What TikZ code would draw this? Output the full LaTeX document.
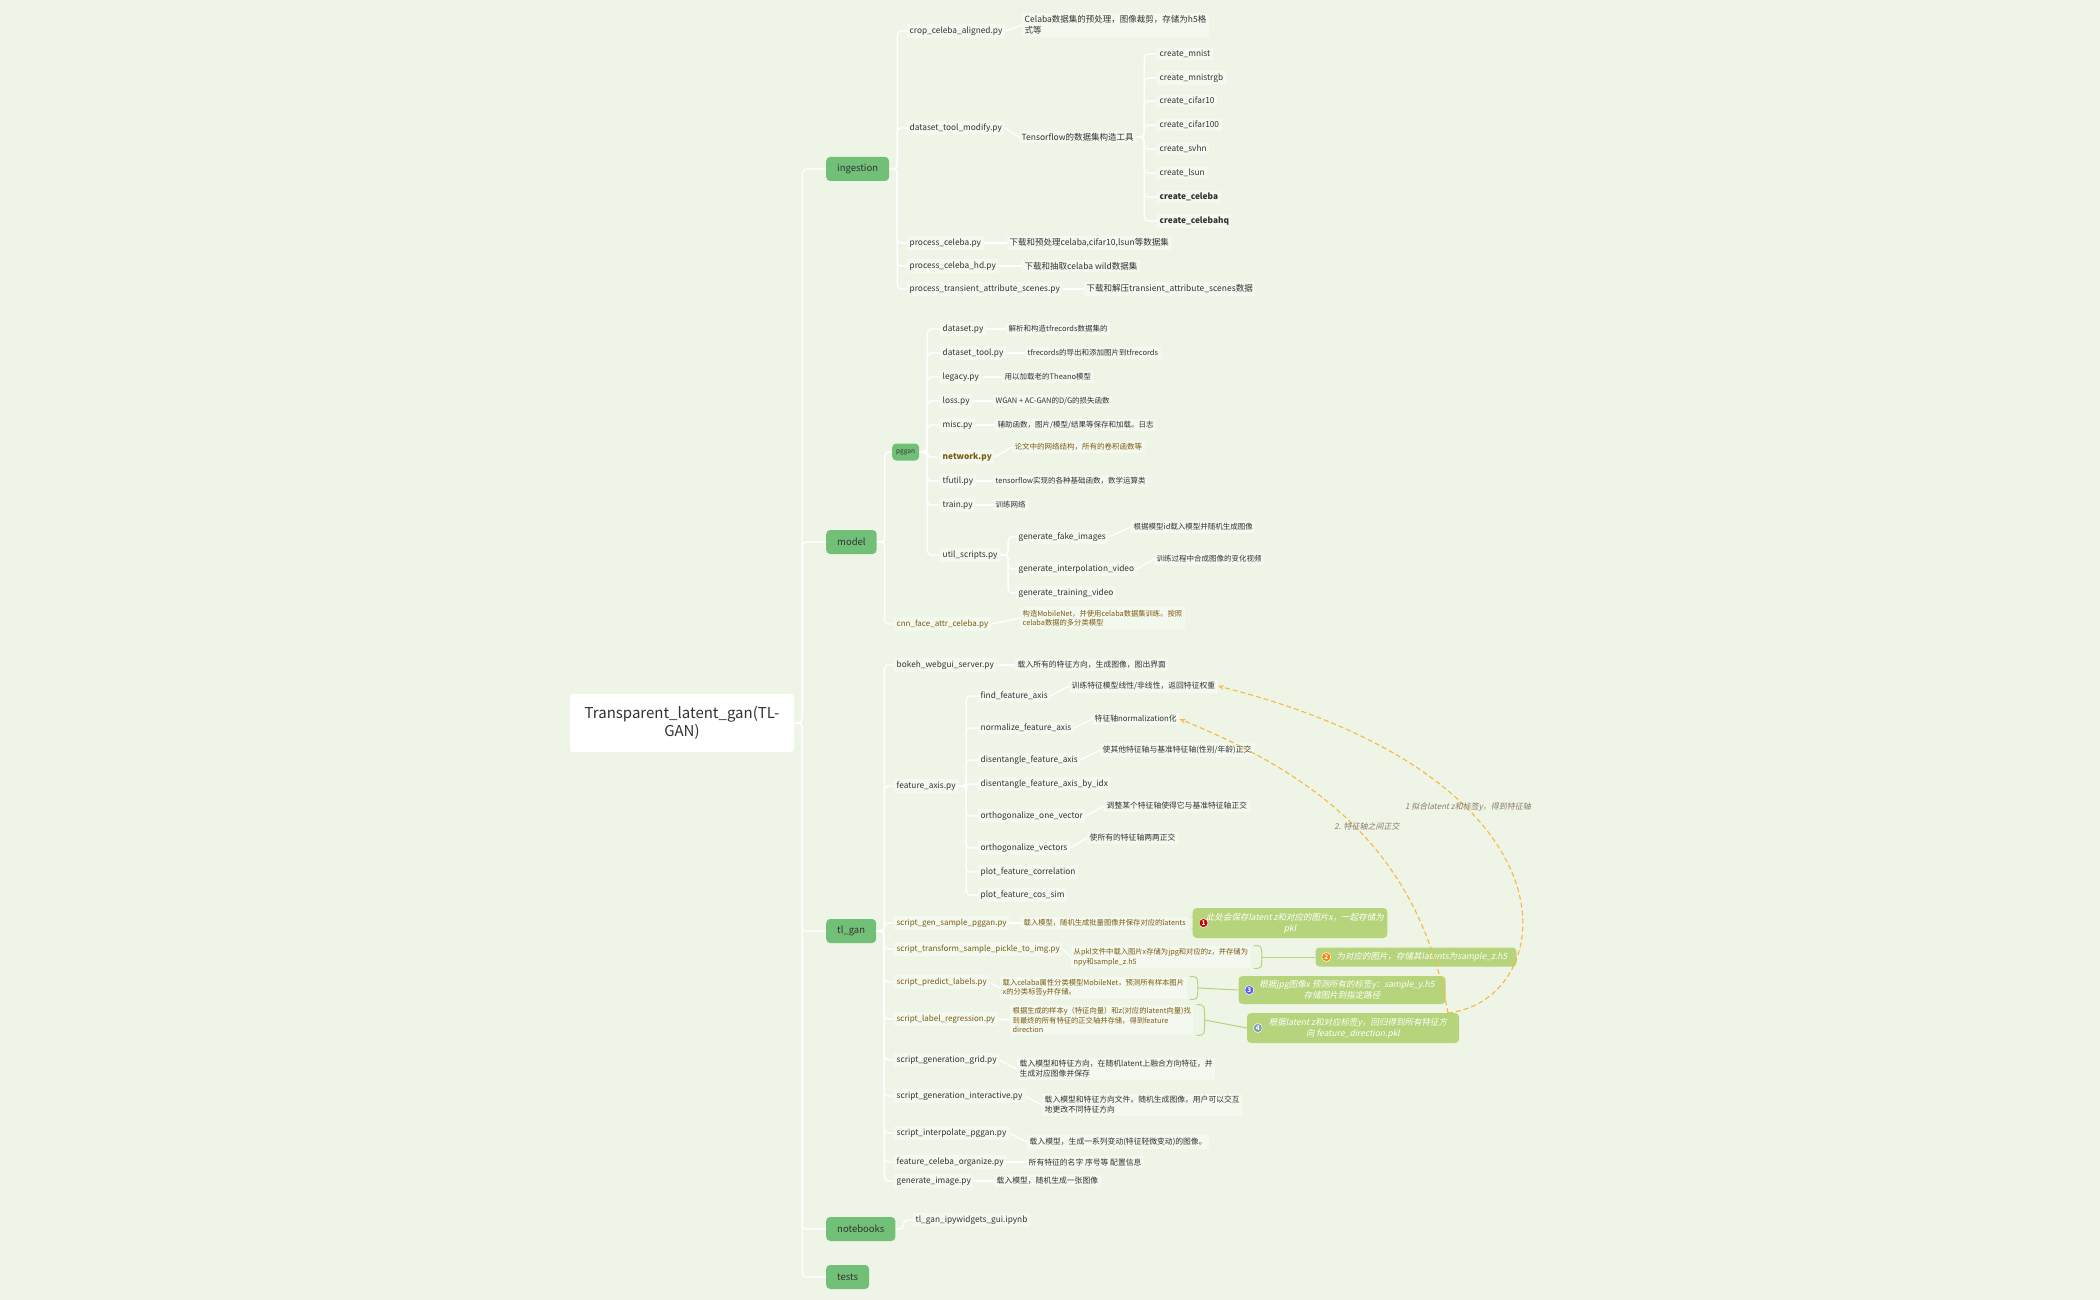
\documentclass[tikz,border=0pt]{standalone}
\usepackage{fontspec}
\setmainfont{Noto Sans CJK SC}
\newfontfamily\slfont{Noto Sans CJK SC}[FakeSlant=0.2]
\usetikzlibrary{arrows.meta}
\definecolor{bgc}{HTML}{EEF5E7}
\definecolor{nodebg}{HTML}{F4F9EF}
\definecolor{lvone}{HTML}{72BF77}
\definecolor{txt}{HTML}{333333}
\definecolor{brn}{HTML}{7B5B12}
\definecolor{notegr}{HTML}{B6D47B}
\definecolor{dashc}{HTML}{F5B942}
\definecolor{labc}{HTML}{8A7A6A}
\tikzset{
 conn/.style={draw=white,line width=1.3pt,rounded corners=4pt},
 rootbox/.style={fill=white,rounded corners=3pt,minimum width=224pt,minimum height=58pt,align=center,text=txt,font=\fontsize{15}{18}\selectfont},
 lone/.style={fill=lvone,rounded corners=4pt,anchor=west,minimum height=24pt,inner xsep=11pt,text=txt,font=\fontsize{9.5}{11}\selectfont},
 ltwo/.style={fill=nodebg,anchor=west,inner sep=2.5pt,text=txt,font=\fontsize{8.3}{10}\selectfont},
 btwo/.style={ltwo,text=brn,font=\fontsize{8}{10}\selectfont},
 dsc/.style={fill=nodebg,anchor=west,inner sep=2.5pt,text=txt,align=left,font=\fontsize{8.5}{11}\selectfont},
 dsm/.style={dsc,font=\fontsize{7.5}{9.5}\selectfont},
 dtl/.style={dsc,font=\fontsize{7.8}{10}\selectfont},
 bdsc/.style={dsc,text=brn,font=\fontsize{7.3}{9.5}\selectfont},
 note/.style={fill=notegr,rounded corners=4pt,text=white,align=center,font=\fontsize{8.5}{11}\slfont},
 numc/.style={circle,inner sep=0.6pt,minimum size=9pt,text=white,font=\fontsize{6.5}{7}\selectfont\bfseries,draw=white,line width=0.5pt},
 brace/.style={draw=notegr,line width=1pt},
 dsh/.style={draw=dashc,line width=1.1pt,dash pattern=on 5pt off 3pt,-{Stealth[length=6pt]}},
 clab/.style={text=labc,font=\fontsize{8}{10}\slfont}
}
\newcommand\cn[2]{\draw[conn] (#1.east) -- ++(8pt,0) |- (#2.west);}
\newcommand\dl[2]{\draw[conn] (#1.east) -- (#2.west);}
\newcommand\brc[2]{\draw[brace] ([xshift=3pt]#1.north east) .. controls ([xshift=11pt]#1.north east) .. ([xshift=11pt]#1.east) .. controls ([xshift=11pt]#1.south east) .. ([xshift=3pt]#1.south east); \draw[brace] ([xshift=11pt]#1.east) -- (#2.west);}
\begin{document}
\begin{tikzpicture}[x=1pt,y=-1pt]
\fill[bgc] (0,0) rectangle (2100,1300);
\useasboundingbox (0,0) rectangle (2100,1300);
% root
\node[rootbox] (root) at (682,723) {Transparent\_latent\_gan(TL-\\GAN)};
\node[lone] (ing) at (826,169) {ingestion};
\node[lone] (mod) at (826,542) {model};
\node[lone] (tlg) at (826,931) {tl\_gan};
\node[lone] (nb) at (826,1229) {notebooks};
\node[lone] (tst) at (826,1277) {tests};
\foreach \c in {ing,mod,tlg,nb,tst} {\cn{root}{\c}}
% ingestion
\node[ltwo] (crop) at (907,31) {crop\_celeba\_aligned.py};
\node[dsc] (cropd) at (1022,25) {Celaba数据集的预处理，图像裁剪，存储为h5格\\式等};
\node[ltwo] (dtm) at (907,128) {dataset\_tool\_modify.py};
\node[dsc] (dtmd) at (1019,137) {Tensorflow的数据集构造工具};
\node[ltwo] (c1) at (1157,54) {create\_mnist};
\node[ltwo] (c2) at (1157,78) {create\_mnistrgb};
\node[ltwo] (c3) at (1157,101) {create\_cifar10};
\node[ltwo] (c4) at (1157,125) {create\_cifar100};
\node[ltwo] (c5) at (1157,149) {create\_svhn};
\node[ltwo] (c6) at (1157,173) {create\_lsun};
\node[ltwo,font=\fontsize{8.3}{10}\selectfont\bfseries] (c7) at (1157,197) {create\_celeba};
\node[ltwo,font=\fontsize{8.3}{10}\selectfont\bfseries] (c8) at (1157,221) {create\_celebahq};
\node[ltwo] (pc) at (907,243) {process\_celeba.py};
\node[dsc] (pcd) at (1007,243) {下载和预处理celaba,cifar10,lsun等数据集};
\node[ltwo] (pch) at (907,266) {process\_celeba\_hd.py};
\node[dsc] (pchd) at (1022,266) {下载和抽取celaba wild数据集};
\node[ltwo] (pta) at (907,289) {process\_transient\_attribute\_scenes.py};
\node[dsc] (ptad) at (1084,289) {下载和解压transient\_attribute\_scenes数据};
\foreach \c in {crop,dtm,pc,pch,pta} {\cn{ing}{\c}}
\foreach \a/\b in {crop/cropd,dtm/dtmd,pc/pcd,pch/pchd,pta/ptad} {\dl{\a}{\b}}
\foreach \c in {c1,c2,c3,c4,c5,c6,c7,c8} {\cn{dtmd}{\c}}
% model
\node[lone,minimum height=17pt,inner xsep=4pt,font=\fontsize{6.5}{8}\selectfont] (pg) at (892,452) {pggan};
\node[ltwo] (m1) at (940,329) {dataset.py};
\node[dsm] (m1d) at (1006,329) {解析和构造tfrecords数据集的};
\node[ltwo] (m2) at (940,353) {dataset\_tool.py};
\node[dsm] (m2d) at (1025,353) {tfrecords的导出和添加图片到tfrecords};
\node[ltwo] (m3) at (940,377) {legacy.py};
\node[dsm] (m3d) at (1002,377) {用以加载老的Theano模型};
\node[ltwo] (m4) at (940,401) {loss.py};
\node[dsm] (m4d) at (993,401) {WGAN + AC-GAN的D/G的损失函数};
\node[ltwo] (m5) at (940,425) {misc.py};
\node[dsm] (m5d) at (995,425) {辅助函数，图片/模型/结果等保存和加载。日志};
\node[ltwo,text=brn,font=\fontsize{8.3}{10}\selectfont\bfseries] (m6) at (940,457) {network.py};
\node[dsm,text=brn] (m6d) at (1012,447) {论文中的网络结构，所有的卷积函数等};
\node[ltwo] (m7) at (940,481) {tfutil.py};
\node[dsm] (m7d) at (993,481) {tensorflow实现的各种基础函数，数学运算类};
\node[ltwo] (m8) at (940,505) {train.py};
\node[dsm] (m8d) at (993,505) {训练网络};
\node[ltwo] (m9) at (940,555) {util\_scripts.py};
\node[ltwo] (u1) at (1016,537) {generate\_fake\_images};
\node[dsm] (u1d) at (1131,527) {根据模型id载入模型并随机生成图像};
\node[ltwo] (u2) at (1016,569) {generate\_interpolation\_video};
\node[dsm] (u2d) at (1154,559) {训练过程中合成图像的变化视频};
\node[ltwo] (u3) at (1016,593) {generate\_training\_video};
\node[btwo] (cnn) at (894,624) {cnn\_face\_attr\_celeba.py};
\node[bdsc] (cnnd) at (1020,618) {构造MobileNet，并使用celaba数据集训练。按照\\celaba数据的多分类模型};
\cn{mod}{pg} \cn{mod}{cnn} \dl{cnn}{cnnd}
\foreach \c in {m1,m2,m3,m4,m5,m6,m7,m8,m9} {\cn{pg}{\c}}
\foreach \a/\b in {m1/m1d,m2/m2d,m3/m3d,m4/m4d,m5/m5d,m6/m6d,m7/m7d,m8/m8d,u1/u1d,u2/u2d} {\dl{\a}{\b}}
\foreach \c in {u1,u2,u3} {\cn{m9}{\c}}
% tl_gan
\node[ltwo] (bk) at (894,665) {bokeh\_webgui\_server.py};
\node[dtl] (bkd) at (1015,665) {载入所有的特征方向，生成图像，图出界面};
\node[ltwo] (fa) at (894,786) {feature\_axis.py};
\node[ltwo] (f1) at (978,696) {find\_feature\_axis};
\node[dtl] (f1d) at (1069,686) {训练特征模型线性/非线性，返回特征权重};
\node[ltwo] (f2) at (978,728) {normalize\_feature\_axis};
\node[dtl] (f2d) at (1092,719) {特征轴normalization化};
\node[ltwo] (f3) at (978,760) {disentangle\_feature\_axis};
\node[dtl] (f3d) at (1100,750) {使其他特征轴与基准特征轴(性别/年龄)正交};
\node[ltwo] (f4) at (978,784) {disentangle\_feature\_axis\_by\_idx};
\node[ltwo] (f5) at (978,816) {orthogonalize\_one\_vector};
\node[dtl] (f5d) at (1104,806) {调整某个特征轴使得它与基准特征轴正交};
\node[ltwo] (f6) at (978,848) {orthogonalize\_vectors};
\node[dtl] (f6d) at (1087,838) {使所有的特征轴两两正交};
\node[ltwo] (f7) at (978,872) {plot\_feature\_correlation};
\node[ltwo] (f8) at (978,895) {plot\_feature\_cos\_sim};
\node[btwo] (s1) at (894,923) {script\_gen\_sample\_pggan.py};
\node[bdsc] (s1d) at (1021,923) {载入模型，随机生成批量图像并保存对应的latents};
\node[btwo] (s2) at (894,949) {script\_transform\_sample\_pickle\_to\_img.py};
\node[bdsc] (s2d) at (1071,957) {从pkl文件中载入图片x存储为jpg和对应的z，并存储为\\npy和sample\_z.h5};
\node[btwo] (s3) at (894,982) {script\_predict\_labels.py};
\node[bdsc] (s3d) at (1000,988) {载入celaba属性分类模型MobileNet，预测所有样本图片\\x的分类标签y并存储。};
\node[btwo] (s4) at (894,1019) {script\_label\_regression.py};
\node[bdsc] (s4d) at (1010,1020) {根据生成的样本y（特征向量）和z(对应的latent向量)找\\到最终的所有特征的正交轴并存储，得到feature\\direction};
\node[ltwo] (g1) at (894,1060) {script\_generation\_grid.py};
\node[dtl] (g1d) at (1017,1069) {载入模型和特征方向，在随机latent上融合方向特征，并\\生成对应图像并保存};
\node[ltwo] (g2) at (894,1096) {script\_generation\_interactive.py};
\node[dtl] (g2d) at (1042,1105) {载入模型和特征方向文件。随机生成图像，用户可以交互\\地更改不同特征方向};
\node[ltwo] (g3) at (894,1133) {script\_interpolate\_pggan.py};
\node[dtl] (g3d) at (1027,1142) {载入模型，生成一系列变动(特征轻微变动)的图像。};
\node[ltwo] (g4) at (894,1162) {feature\_celeba\_organize.py};
\node[dtl] (g4d) at (1026,1162) {所有特征的名字 序号等 配置信息};
\node[ltwo] (g5) at (894,1181) {generate\_image.py};
\node[dtl] (g5d) at (994,1181) {载入模型，随机生成一张图像};
\foreach \c in {bk,fa,s1,s2,s3,s4,g1,g2,g3,g4,g5} {\cn{tlg}{\c}}
\foreach \c in {f1,f2,f3,f4,f5,f6,f7,f8} {\cn{fa}{\c}}
\foreach \a/\b in {bk/bkd,f1/f1d,f2/f2d,f3/f3d,f5/f5d,f6/f6d,s1/s1d,s2/s2d,s3/s3d,s4/s4d,g1/g1d,g2/g2d,g3/g3d,g4/g4d,g5/g5d} {\dl{\a}{\b}}
% notes
\node[note,minimum width=189pt,minimum height=30pt] (n1) at (1290,923) {\hspace{10pt}此处会保存latent z和对应的图片x，一起存储为\\pkl};
\node[note,minimum width=201pt,minimum height=19pt] (n2) at (1416,957) {\hspace{12pt}为对应的图片，存储其latents为sample\_z.h5};
\node[note,minimum width=207pt,minimum height=28pt] (n3) at (1342,990) {\hspace{10pt}根据jpg图像x 预测所有的标签y：sample\_y.h5\\存储图片到指定路径};
\node[note,minimum width=212pt,minimum height=30pt] (n4) at (1353,1028) {\hspace{10pt}根据latent z和对应标签y，回归得到所有特征方\\向 feature\_direction.pkl};
\node[numc,fill=red!80!black] (k1) at ([xshift=11pt]n1.west) {1};
\node[numc,fill=orange] (k2) at ([xshift=11pt]n2.west) {2};
\node[numc,fill=blue!65] (k3) at ([xshift=11pt]n3.west) {3};
\node[numc,fill=gray!70!cyan] (k4) at ([xshift=11pt]n4.west) {4};
\brc{s1d}{n1} \brc{s2d}{n2} \brc{s3d}{n3} \brc{s4d}{n4}
% notebooks
\node[ltwo] (nb1) at (913,1220) {tl\_gan\_ipywidgets\_gui.ipynb};
\cn{nb}{nb1}
% dashed curves
\coordinate (cs) at (1448,1013);
\draw[dsh] (cs) .. controls (1560,1000) and (1590,780) .. (f1d.east);
\draw[dsh] (cs) .. controls (1420,860) and (1330,780) .. (f2d.east);
\node[clab] (lab1) at (1468,807) {1 拟合latent z和标签y，得到特征轴};
\node[clab] (lab2) at (1367,826) {2. 特征轴之间正交};
\end{tikzpicture}
\end{document}
